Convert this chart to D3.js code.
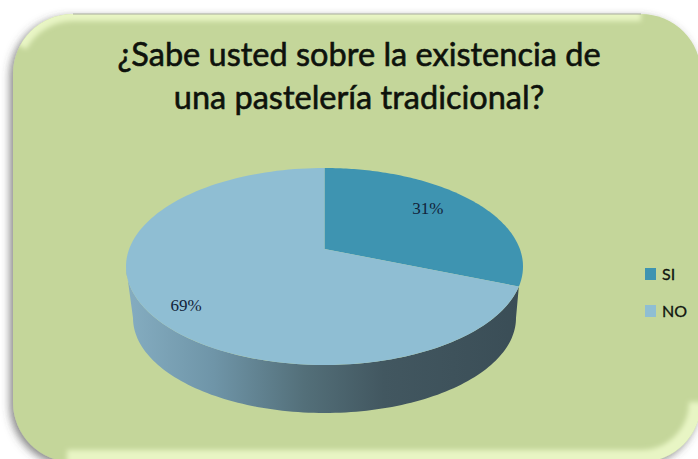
<!DOCTYPE html>
<html lang="es">
<head>
<meta charset="utf-8">
<title>Pastelería tradicional</title>
<script src="https://cdn.jsdelivr.net/npm/d3@7/dist/d3.min.js"></script>
<style>
  html, body { margin: 0; padding: 0; background: #fff; }
  svg { display: block; }
</style>
</head>
<body>
<svg id="chart" width="698" height="459"></svg>
<script>
// Survey answers
const categories = ["SI", "NO"];
const shares = [31, 69];
const shareLabels = ["31%", "69%"];
const titleLines = ["¿Sabe usted sobre la existencia de", "una pastelería tradicional?"];

const sliceColors = ["#3e94b1", "#8fbed3"];
const wallStops = [
  ["0%", "#85adc1"], ["22%", "#6f95a8"], ["45%", "#536f79"],
  ["65%", "#425760"], ["100%", "#3a4d56"]
];

const card = { x: 13, y: 14, w: 688, h: 448, r: 60 };
const topDisc = { cx: 324.5, cy: 266.5, rx: 198.5, ry: 98.5 };
const baseDisc = { cx: 324.5, cy: 318, rx: 191.5, ry: 95 };
// Perspective tilt: pulls the disc centre towards the far edge
const tilt = 0.178;

const svg = d3.select("#chart");
const defs = svg.append("defs");

// A pie angle (clockwise from 12 o'clock) at relative radius k, seen in perspective
function project(disc, angle, k = 1) {
  const u = k * Math.sin(angle), v = -k * Math.cos(angle);
  const d = 1 - tilt * v;
  return [
    disc.cx + disc.rx * u * Math.sqrt(1 - tilt * tilt) / d,
    disc.cy + disc.ry * (v - tilt) / d
  ];
}
const edge = (disc, a0, a1) => d3.range(0, 121).map(i => project(disc, a0 + (a1 - a0) * i / 120));

const pie = d3.pie().sort(null).value(d => d)(shares);
const color = d3.scaleOrdinal().domain(categories).range(sliceColors);
const line = d3.line();

// Card background with shadow
const shadow = defs.append("filter").attr("id", "cardShadow")
  .attr("x", "-5%").attr("y", "-5%").attr("width", "110%").attr("height", "110%");
shadow.append("feDropShadow").attr("dx", -3).attr("dy", 3).attr("stdDeviation", 4)
  .attr("flood-color", "#444").attr("flood-opacity", 0.65);
defs.append("filter").attr("id", "rimBlur")
  .attr("x", "-5%").attr("y", "-20%").attr("width", "110%").attr("height", "140%")
  .append("feGaussianBlur").attr("stdDeviation", 2.5);
defs.append("clipPath").attr("id", "cardClip").append("rect")
  .attr("x", card.x).attr("y", card.y).attr("width", card.w).attr("height", card.h).attr("rx", card.r);

svg.append("rect")
  .attr("x", card.x).attr("y", card.y).attr("width", card.w).attr("height", card.h).attr("rx", card.r)
  .attr("fill", "#c4d69a").attr("filter", "url(#cardShadow)");

// Bright rim along the top and bottom edges of the card
const right = card.x + card.w, bottom = card.y + card.h;
const rimTop = `M20,46 A${card.r},${card.r} 0 0 1 ${card.x + card.r},${card.y} H${right - card.r}`;
const rimBottom = `M${card.x + card.r - 6},${bottom} H${right - card.r} A${card.r},${card.r} 0 0 0 ${right},${bottom - card.r}`;
const rim = svg.append("g").attr("clip-path", "url(#cardClip)");
rim.selectAll("path").data([[rimTop, 14], [rimBottom, 24]]).join("path")
  .attr("d", d => d[0]).attr("stroke-width", d => d[1])
  .attr("fill", "none").attr("stroke", "#e8f5c4").attr("filter", "url(#rimBlur)");
svg.append("path").attr("d", `M${card.x + card.r},${card.y} H${right - card.r}`)
  .attr("stroke", "#a9ae9d").attr("stroke-width", 1).attr("fill", "none");

// Title
svg.append("g").selectAll("text").data(titleLines).join("text")
  .attr("x", 359).attr("y", (d, i) => 65.5 + i * 43)
  .attr("text-anchor", "middle")
  .attr("font-family", "Lato, sans-serif").attr("font-size", 32.5).attr("font-weight", 400)
  .attr("fill", "#0e120c").attr("stroke", "#0e120c").attr("stroke-width", 0.6)
  .text(d => d);

// Pie side wall, shaded from left to right
const wallGrad = defs.append("linearGradient").attr("id", "wallGrad")
  .attr("gradientUnits", "userSpaceOnUse")
  .attr("x1", topDisc.cx - topDisc.rx).attr("x2", topDisc.cx + topDisc.rx).attr("y1", 0).attr("y2", 0);
wallGrad.selectAll("stop").data(wallStops).join("stop")
  .attr("offset", d => d[0]).attr("stop-color", d => d[1]);

const widest = Math.acos(-tilt);          // angle at which the disc reaches its widest point
const noSlice = pie[1];
const wallPoints = edge(topDisc, noSlice.startAngle, 2 * Math.PI - widest)
  .concat(edge(baseDisc, 2 * Math.PI - widest, widest));
svg.append("path").attr("d", line(wallPoints) + "Z").attr("fill", "url(#wallGrad)");

// Pie top face
svg.append("g").selectAll("path").data(pie).join("path")
  .attr("d", d => line([project(topDisc, 0, 0)].concat(edge(topDisc, d.startAngle, d.endAngle))) + "Z")
  .attr("fill", (d, i) => color(categories[i]));

// Percentage labels
const labelRadius = [0.67, 0.8];
const labelNudge = [[2, -7], [2, 9]];
svg.append("g").selectAll("text").data(pie).join("text")
  .attr("transform", (d, i) => {
    const [x, y] = project(topDisc, (d.startAngle + d.endAngle) / 2, labelRadius[i]);
    return `translate(${x + labelNudge[i][0]},${y + labelNudge[i][1]})`;
  })
  .attr("text-anchor", "middle").attr("dy", "0.35em")
  .attr("font-family", "'Liberation Serif', serif").attr("font-size", 17)
  .attr("fill", "#12233a")
  .text((d, i) => shareLabels[i]);

// Legend
const legendY = d3.scalePoint().domain(categories).range([274, 311]);
const legend = svg.append("g").selectAll("g").data(categories).join("g")
  .attr("transform", d => `translate(645,${legendY(d)})`);
legend.append("rect").attr("y", -6).attr("width", 11).attr("height", 12).attr("fill", d => color(d));
legend.append("text").attr("x", 17).attr("y", 6)
  .attr("font-family", "Lato, sans-serif").attr("font-size", 16).attr("font-weight", 400)
  .attr("fill", "#10150f").attr("stroke", "#10150f").attr("stroke-width", 0.3).text(d => d);
</script>
</body>
</html>
